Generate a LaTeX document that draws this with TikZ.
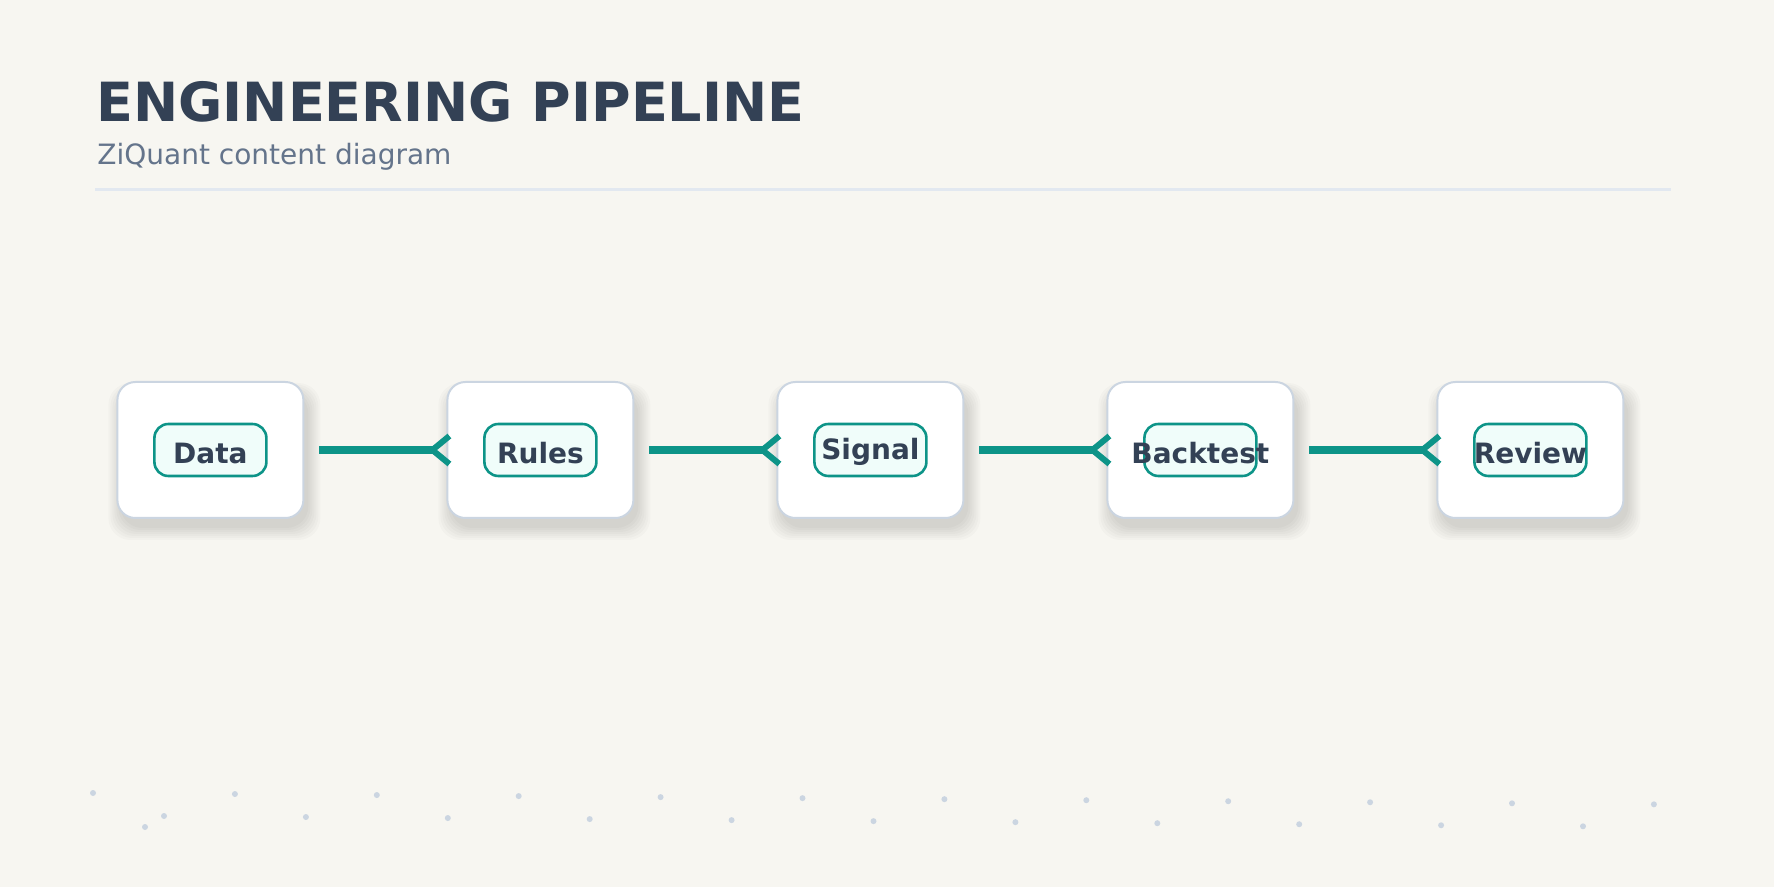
\documentclass[tikz,border=0pt]{standalone}
\usepackage{fontspec}
\setmainfont{DejaVu Sans}
\usetikzlibrary{arrows.meta}

\definecolor{paper}{HTML}{F7F6F1}
\definecolor{ink}{HTML}{334155}
\definecolor{muted}{HTML}{64748B}
\definecolor{edge}{HTML}{CBD5E1}
\definecolor{hair}{HTML}{E2E8F0}
\definecolor{teal}{HTML}{0D9488}
\definecolor{mint}{HTML}{F0FDFA}

\begin{document}
\begin{tikzpicture}[x=0.5pt,y=-0.5pt,line join=round]
  \tikzset{
    stage/.style={draw=edge,line width=1pt,fill=white,rounded corners=9pt,
      minimum width=93pt,minimum height=68pt,inner sep=0pt,outer sep=0pt},
    haze/.style={fill=black,opacity=0.018,rounded corners=11pt},
    tag/.style={draw=teal,fill=mint,line width=1.3pt,rounded corners=7pt,
      minimum width=56pt,minimum height=26pt,inner sep=0pt},
    tagtext/.style={anchor=base,inner sep=0pt,text=ink,font=\bfseries\fontsize{14}{17}\selectfont},
    flow/.style={draw=teal,line width=3.6pt,line cap=butt,
      -{Straight Barb[reversed,length=8.5pt,width=14pt,line width=3pt]}},
    dot/.style={fill=edge}
  }

  \path[use as bounding box,fill=paper] (0,0) rectangle (1774,887);

  \node[anchor=base west,inner sep=0pt,text=ink,font=\bfseries\fontsize{27}{32}\selectfont]
    (title) at (96,121.7) {ENGINEERING PIPELINE};
  \node[anchor=base west,inner sep=0pt,text=muted,font=\fontsize{14}{17}\selectfont]
    (subtitle) at (97,164.3) {ZiQuant content diagram};
  \draw[hair,line width=1.5pt] (95,190) -- (1671,190);

  \foreach \name/\lab/\x/\dy in {data/Data/210.4/7,rules/Rules/540.4/7,signal/Signal/870.4/5,
                                 backtest/Backtest/1200.4/7,review/Review/1530.4/7} {
    % soft shadow, a stack of faint rounded rectangles
    \foreach \g in {0,...,6}
      \fill[haze] (\x-90-2*\g,392-1.5*\g) rectangle (\x+98+2*\g,528+2*\g);
    \node[stage] (\name) at (\x,450) {};
    \node[tag] (\name-tag) at (\name.center) {};
    \node[tagtext] (\name-text) at ([yshift=-\dy pt]\name.center) {\lab};
  }

  \foreach \a/\b in {data/rules,rules/signal,signal/backtest,backtest/review}
    \draw[flow] ([xshift=8pt]\a.east) -- ([xshift=2.5pt]\b.west);

  % dotted strip along the bottom
  \foreach \i in {0,...,11}
    \fill[dot] (93+141.9*\i,793+1.03*\i) circle[radius=1.5pt];
  \foreach \i in {0,...,10}
    \fill[dot] (164+141.9*\i,816+1.03*\i) circle[radius=1.5pt];
  \fill[dot] (145,827) circle[radius=1.5pt];
\end{tikzpicture}
\end{document}
